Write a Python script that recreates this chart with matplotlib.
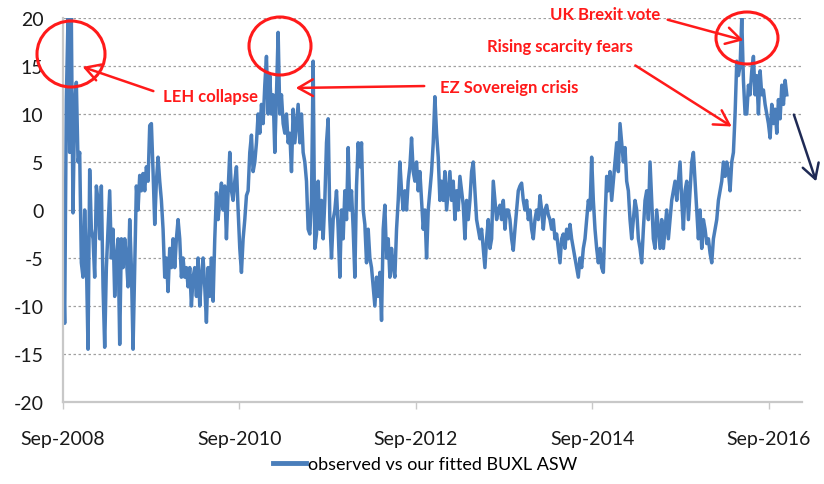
import numpy as np
import pandas as pd
import matplotlib
matplotlib.use("Agg")
import matplotlib.pyplot as plt
import matplotlib.dates as mdates
from matplotlib.patches import Ellipse, FancyArrowPatch

plt.rcParams['font.family'] = ['Lato', 'DejaVu Sans']
plt.rcParams['axes.unicode_minus'] = False

# observed vs fitted BUXL ASW, roughly weekly, Sep-2008 .. mid Nov-2016
asw_2008_2010 = [
    -3.5, -11.8, 11.5, 20, 6, 20, -0.3, 11, 13.3, 5, 6, -5.5, -7, 0, -5, -14.5,
    4.2, -2, -3, -7, 2.5, 1, -3, 2.5, -8, -14.3, -6, -2, 2, -5, -2, -9, -5, -3,
    -14, -3, -6, -3, -5, -8, -1, -6, -14.5, -6, 2.5, 0, 3.6, 2, 3.8, 2, 4.5, 3,
    8.8, 9, 4, -1.5, 3, 5.5, 3, 1, -2, -7, -5, -8.5, -4, -6, -3, -6, -3, -1, -3,
    -7, -5, -7, -6, -8, -6, -10, -7, -6, -9, -5, -10, -7, -5, -8, -11.7, -6, -9,
    -5, -9.5, -3, 1.8, -1, 1, 2.8, 0, 2.5, -3, 2, 6, 2, 1, 3, 4.5, 0, -4, -6.5,
    -3, -1, 1.5, 2, 6, 7.8, 4, 5, 7, 10, 8, 11, 9,
]
asw_2010_2013 = [
    13, 16, 10, 14, 10, 12, 6, 12, 18.5, 10, 12, 9, 8, 10, 7, 8, 4, 10.5, 7, 9,
    11, 7, 10, 6, 5, 3, -2, -2.5, 1, 15.5, -4, -2.5, 3, -2, 1, -3, 1, 7, 9.5, -1,
    -5, -1, 0, 2, -2, -7, 0, -3, 2, -1, 6.5, 0, 2, -2, -7, 2.5, 7, 4.5, 7, 0,
    -1.5, -5.5, -2, -5, -6, -8, -10, -7, -9, -6.5, -11.5, -2, 0.5, -5, -3, -7,
    -4, -6, -7, -2, 1, 5, 2, 0, 2, 0, 3, 4.5, 7.5, 4, 3, 5, 2, 4, 1, -2, 0, -5,
    0, 2, 4, 7, 11.8, 8, 5.5, 1, 3, 1, 4, 0, 2, 4, 1, 3, -1, 2, 0, 3.5, 2, 0.5,
    -3, 1, -1, 1, 4, 5, 2, -1, -2, -3, -2, -4, -6, -3, -1, -4, -3, 3, 1, -1, 0,
    0.5, -1, 1, -2, 0, 0,
]
asw_2013_2016 = [
    -1, -3, -4.2, -2, 0, 2, 2.5, 2.8, 1, 0, 1, -1, 0, -2, -3, -1, 0, -1, 1.5, 0,
    -2, 0, 0.5, -0.5, -1, -2, -1, -3, -2.5, -4, -5.5, -3, -2.5, -4, -2, -3, -1.5,
    -3, -4, -5, -6, -7, -5, -6, -4, -3, -1, 1, 0, 5.5, 1, -2, -4, -5.5, -4, -6,
    -6.5, -1, 3.5, 2, 4, 1, 3, 5, 7, 4, 9, 7, 5, 6.5, 3, 2, -1, -3, -1, 1, 0, -3,
    -4, -5.5, -2, 1, 2, -1, 5, 1, -3, -4, 0, -2, -4, -1, -4, -2, 0, -3, -1, 1, 2,
    3, 1, 3, 5, 1, -2, 2, 3, -1, 2, 5, 6, 3, 0, -3, 0, -4, -1, -2, -3.5, -3,
    -4.5, -5.5, -3, -2, -1, 1, 2, 3, 5, 3.5, 5, 4, 2, 5, 6, 10, 15.5, 14, 15, 20,
    13.5, 10, 10, 13, 12, 14.5, 16, 12, 14, 10, 14.5, 12, 12.5, 11, 10, 9, 7.5,
    11, 9, 10.5, 8, 11.5, 9.5, 13, 11, 13.5, 12,
]
asw = asw_2008_2010 + asw_2010_2013 + asw_2013_2016
dates = pd.date_range('2008-09-01', '2016-11-15', periods=len(asw))

tick_dates = pd.to_datetime(['2008-09-01', '2010-09-01', '2012-09-01',
                             '2014-09-01', '2016-09-01'])
y_ticks = [-20, -15, -10, -5, 0, 5, 10, 15, 20]

W, H = 824, 485
fig = plt.figure(figsize=(W / 100, H / 100), dpi=100)
ax = fig.add_axes([63 / W, 1 - 403 / H, (802 - 63) / W, (403 - 19) / H])


def px(x, y):
    return (x / W, 1 - y / H)


ax.plot(dates, asw, color='#4a7ebb', lw=2.5, label='observed vs our fitted BUXL ASW')
ax.set_ylim(-20, 20)
ax.set_xlim(pd.Timestamp('2008-09-01'), pd.Timestamp('2017-01-17'))
ax.set_yticks(y_ticks)
ax.set_xticks(tick_dates)
ax.xaxis.set_major_formatter(mdates.DateFormatter('%b-%Y'))
for v in y_ticks[1:]:
    ax.axhline(v, color='#a0a0a0', lw=0.9, ls=(0, (2, 2)), zorder=0)

for s in ['top', 'right']:
    ax.spines[s].set_visible(False)
for s in ['left', 'bottom']:
    ax.spines[s].set_color('#c8c8c8')
    ax.spines[s].set_linewidth(1.6)
ax.tick_params(axis='y', length=0, pad=14, labelsize=14, labelcolor='#1a1a1a')
ax.tick_params(axis='x', length=5, width=1, color='#c8c8c8', pad=15,
               labelsize=14, labelcolor='#1a1a1a')

red = '#ff1a1a'
# circles
for cx, cy, rx, ry in [(71, 55, 34, 33), (280, 47, 31, 29), (747, 39, 31, 26)]:
    e = Ellipse(px(cx, cy), 2 * rx / W, 2 * ry / H, transform=fig.transFigure,
                fill=False, ec=red, lw=2.2)
    fig.add_artist(e)

tkw = dict(color=red, fontsize=12, fontweight='bold', va='center')
fig.text(*px(163, 97), 'LEH collapse', ha='left', **tkw)
fig.text(*px(440, 88), 'EZ Sovereign crisis', ha='left', **tkw)
fig.text(*px(550, 15), 'UK Brexit vote', ha='left', **tkw)
fig.text(*px(487, 47), 'Rising scarcity fears', ha='left', **tkw)

arrows = [((156, 93), (80, 67), red), ((427, 87), (293, 89), red),
          ((665, 20), (746, 42), red), ((633, 65), (734, 129), red),
          ((793, 113), (817, 185), '#1f2a55')]
for a, b, c in arrows:
    arr = FancyArrowPatch(px(*a), px(*b), transform=fig.transFigure,
                          arrowstyle='->,head_length=7,head_width=4',
                          color=c, lw=1.8, mutation_scale=1.5)
    fig.add_artist(arr)

fig.legend(loc='center', bbox_to_anchor=(0.516, 1 - 465 / H), frameon=False,
           fontsize=13, handlelength=1.8, handletextpad=0.1)
leg = fig.legends[0]
leg.get_lines()[0].set_linewidth(3.5)

fig.savefig('out.png', dpi=100)
